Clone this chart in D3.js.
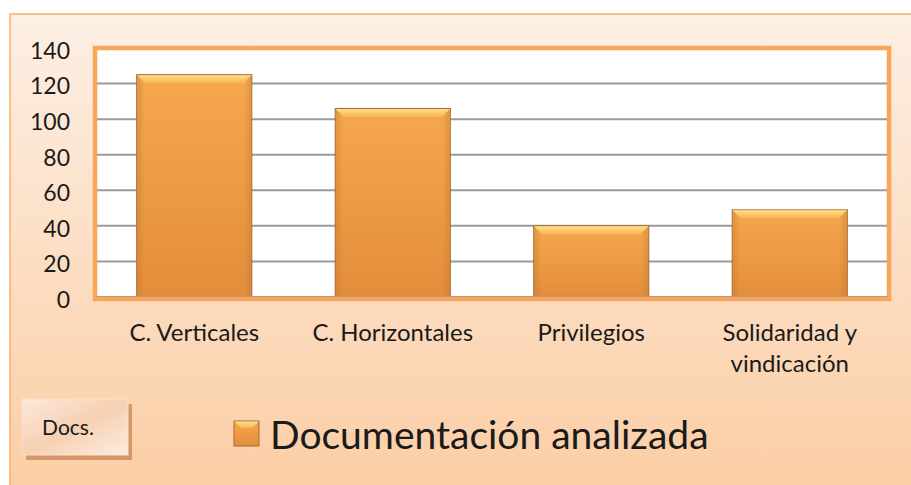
<!DOCTYPE html>
<html>
<head>
<meta charset="utf-8">
<script src="https://cdn.jsdelivr.net/npm/d3@7"></script>
<style>
  body { margin: 0; background: #fff; }
  svg { display: block; font-family: Lato, "Open Sans", sans-serif; }
</style>
</head>
<body>
<div id="container"></div>
<script>
/* DATA */
const categories = ["C. Verticales", "C. Horizontales", "Privilegios", "Solidaridad y vindicación"];
const values = [125, 106, 40, 49];
const yTicks = [0, 20, 40, 60, 80, 100, 120, 140];
const seriesName = "Documentación analizada";
const boxLabel = "Docs.";

/* CONSTANTS */
const width = 911, height = 485;
const plot = { left: 95, right: 889, top: 48, bottom: 297 };

const svg = d3.select("#container")
  .append("svg")
  .attr("width", width)
  .attr("height", height);

const defs = svg.append("defs");

// background gradient
const bg = defs.append("linearGradient").attr("id", "bg")
  .attr("x1", 0).attr("y1", 0).attr("x2", 0).attr("y2", 1);
bg.append("stop").attr("offset", "0%").attr("stop-color", "#fdefe4");
bg.append("stop").attr("offset", "100%").attr("stop-color", "#fbcea5");

// bar gradient
const barG = defs.append("linearGradient").attr("id", "barG")
  .attr("x1", 0).attr("y1", 0).attr("x2", 0).attr("y2", 1);
barG.append("stop").attr("offset", "0%").attr("stop-color", "#f6a84d");
barG.append("stop").attr("offset", "100%").attr("stop-color", "#e38d3b");

// bevel top
const bevel = defs.append("linearGradient").attr("id", "bevel")
  .attr("x1", 0).attr("y1", 0).attr("x2", 0).attr("y2", 1);
bevel.append("stop").attr("offset", "0%").attr("stop-color", "#fce08a");
bevel.append("stop").attr("offset", "100%").attr("stop-color", "#f7b352");

// side shading
const side = defs.append("linearGradient").attr("id", "side")
  .attr("x1", 0).attr("y1", 0).attr("x2", 1).attr("y2", 0);
side.append("stop").attr("offset", "0%").attr("stop-color", "#b8742e").attr("stop-opacity", 0.35);
side.append("stop").attr("offset", "6%").attr("stop-color", "#b8742e").attr("stop-opacity", 0);
side.append("stop").attr("offset", "94%").attr("stop-color", "#b8742e").attr("stop-opacity", 0);
side.append("stop").attr("offset", "100%").attr("stop-color", "#b8742e").attr("stop-opacity", 0.35);

// docs box gradient
const boxG = defs.append("linearGradient").attr("id", "boxG")
  .attr("x1", 0).attr("y1", 0).attr("x2", 1).attr("y2", 1);
boxG.append("stop").attr("offset", "0%").attr("stop-color", "#fce9dc");
boxG.append("stop").attr("offset", "50%").attr("stop-color", "#f6d0b2");
boxG.append("stop").attr("offset", "100%").attr("stop-color", "#fdece0");

// OUTER BACKGROUND
svg.append("rect")
  .attr("x", 10).attr("y", 14)
  .attr("width", width - 10 + 2).attr("height", height - 14 + 2)
  .attr("fill", "url(#bg)")
  .attr("stroke", "#f9ae6b")
  .attr("stroke-width", 1.5);

// SCALES
const xScale = d3.scaleBand()
  .domain(categories)
  .range([plot.left, plot.right])
  .paddingInner(0.42)
  .paddingOuter(0.21);

const yScale = d3.scaleLinear()
  .domain([0, 140])
  .range([plot.bottom, plot.top]);

// PLOT AREA
svg.append("rect")
  .attr("x", plot.left).attr("y", plot.top)
  .attr("width", plot.right - plot.left).attr("height", plot.bottom - plot.top)
  .attr("fill", "#fff");

// GRIDLINES
svg.append("g")
  .selectAll("line")
  .data(yTicks.filter(d => d > 0 && d < 140))
  .join("line")
  .attr("x1", plot.left).attr("x2", plot.right)
  .attr("y1", d => yScale(d)).attr("y2", d => yScale(d))
  .attr("stroke", "#9b9b9b")
  .attr("stroke-width", 2);

// Y AXIS LABELS
const yAxis = d3.axisLeft(yScale).tickValues(yTicks).tickSize(0).tickPadding(0);
const yG = svg.append("g")
  .attr("transform", `translate(70, 0)`)
  .call(yAxis);
yG.select(".domain").remove();
yG.selectAll("text")
  .attr("font-family", "Lato, sans-serif")
  .attr("font-size", 23)
  .attr("dy", "0.45em")
  .attr("fill", "#1a1a1a");

// BARS
const bars = svg.append("g").selectAll("g")
  .data(values)
  .join("g");

bars.append("rect")
  .attr("x", (d, i) => xScale(categories[i]))
  .attr("y", d => yScale(d))
  .attr("width", xScale.bandwidth())
  .attr("height", d => yScale(0) - yScale(d))
  .attr("fill", "url(#barG)")
  .attr("stroke", "#a86a2c")
  .attr("stroke-width", 1);

bars.append("rect")
  .attr("x", (d, i) => xScale(categories[i]) + 1)
  .attr("y", d => yScale(d) + 1)
  .attr("width", xScale.bandwidth() - 2)
  .attr("height", d => yScale(0) - yScale(d) - 2)
  .attr("fill", "url(#side)");

bars.append("path")
  .attr("d", (d, i) => {
    const x0 = xScale(categories[i]) + 0.5, x1 = x0 + xScale.bandwidth() - 1;
    const y0 = yScale(d) + 0.5, b = 8;
    return `M${x0},${y0}L${x1},${y0}L${x1 - b},${y0 + b}L${x0 + b},${y0 + b}Z`;
  })
  .attr("fill", "url(#bevel)");

// X AXIS LINE
svg.append("line")
  .attr("x1", plot.left).attr("x2", plot.right)
  .attr("y1", plot.bottom).attr("y2", plot.bottom)
  .attr("stroke", "#9b9b9b")
  .attr("stroke-width", 2);

// PLOT FRAME
svg.append("rect")
  .attr("x", plot.left).attr("y", plot.top)
  .attr("width", plot.right - plot.left).attr("height", plot.bottom - plot.top + 2)
  .attr("fill", "none")
  .attr("stroke", "#f9a55a")
  .attr("stroke-width", 4.5);

// CATEGORY LABELS
const xAxis = d3.axisBottom(xScale).tickSize(0).tickPadding(0);
const xG = svg.append("g")
  .attr("transform", `translate(0, 341)`)
  .call(xAxis);
xG.select(".domain").remove();
xG.selectAll("text")
  .attr("font-family", "Lato, sans-serif")
  .attr("font-size", 24)
  .attr("fill", "#1a1a1a")
  .attr("dy", 0)
  .each(function (d) {
    const t = d3.select(this);
    const words = d.split(" ");
    const lines = [];
    let line = [];
    words.forEach(w => {
      line.push(w);
      t.text(line.join(" "));
      if (this.getComputedTextLength() > 190 && line.length > 1) {
        line.pop();
        lines.push(line.join(" "));
        line = [w];
      }
    });
    lines.push(line.join(" "));
    t.text(null);
    lines.forEach((l, k) => {
      t.append("tspan").attr("x", 0).attr("dy", k === 0 ? 0 : 31).text(l);
    });
  });

// DOCS BOX
svg.append("rect")
  .attr("x", 26).attr("y", 404)
  .attr("width", 106).attr("height", 56)
  .attr("fill", "#d4976a");
svg.append("rect")
  .attr("x", 22).attr("y", 399)
  .attr("width", 106).attr("height", 56)
  .attr("fill", "url(#boxG)")
  .attr("stroke", "#fbe0cc")
  .attr("stroke-width", 1);
svg.append("text")
  .attr("x", 68).attr("y", 435)
  .attr("text-anchor", "middle")
  .attr("font-family", "Lato, sans-serif")
  .attr("font-size", 21)
  .attr("fill", "#1a1a1a")
  .text(boxLabel);

// LEGEND
const legend = svg.append("g").attr("transform", "translate(234, 421)");
legend.append("rect")
  .attr("width", 25).attr("height", 25)
  .attr("fill", "url(#barG)")
  .attr("stroke", "#a86a2c")
  .attr("stroke-width", 1);
legend.append("path")
  .attr("d", "M0.5,0.5L24.5,0.5L18,7L7,7Z")
  .attr("fill", "url(#bevel)");
legend.append("text")
  .attr("x", 36).attr("y", 28)
  .attr("font-family", "Lato, sans-serif")
  .attr("font-size", 39)
  .attr("fill", "#1a1a1a")
  .text(seriesName);
</script>
</body>
</html>
